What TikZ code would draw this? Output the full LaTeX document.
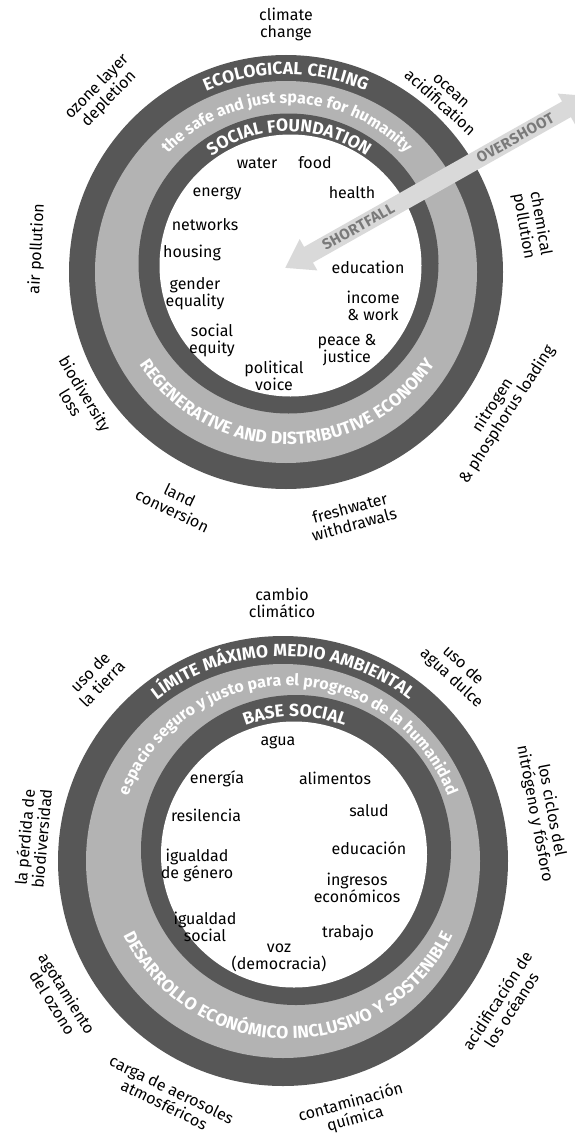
\documentclass[tikz,border=0pt]{standalone}
\usepackage{fontspec}
\setmainfont{Fira Sans}
\newfontfamily\ringfont{Fira Sans}[LetterSpace=3]
\usetikzlibrary{arrows.meta,decorations.text,calc}
\definecolor{ringdark}{HTML}{575757}
\definecolor{ringlight}{HTML}{B3B3B3}
\definecolor{arrowfill}{HTML}{D9D9D9}
\definecolor{arrowtext}{HTML}{7A7A7A}

\begin{document}
\begin{tikzpicture}[
  x=1pt, y=1pt,
  font=\fontsize{16}{17}\selectfont,
  lbl/.style={align=center, inner sep=0pt},
  dark/.style={fill=ringdark},
  light/.style={fill=ringlight},
  hole/.style={fill=white},
  ringtxt/.style={decorate, decoration={text along path, text align=center, text color=white,
    text={|\fontsize{16}{17}\selectfont\bfseries|#1}}},
  ringcaps/.style={decorate, decoration={text along path, text align=center, text color=white,
    text={|\fontsize{17.5}{18}\ringfont\bfseries|#1}}},
  arr/.style={draw=arrowfill, line width=18pt,
    {Triangle[width=34pt,length=27pt,fill=arrowfill]}-{Triangle[width=34pt,length=27pt,fill=arrowfill]}},
  arrlab/.style={font=\fontsize{15}{16}\ringfont\bfseries, text=arrowtext, sloped, inner sep=0pt}
]
\useasboundingbox[fill=white] (0,0) rectangle (575,-1140);

% english doughnut
\coordinate (top) at (286,-272);
\coordinate (topmid) at (287,-268);
\coordinate (topinner) at (288.5,-263.5);
\coordinate (tophole) at (290.5,-265.5);
\coordinate (topsoc) at (289,-265);
\fill[dark] (top) circle[radius=217];
\fill[light] (top) circle[radius=191];
\fill[dark] (topinner) circle[radius=150];
\fill[hole] (tophole) circle[radius=131];

\path[ringcaps={ECOLOGICAL CEILING}] ($(top)+(165:197.5)$) arc[start angle=165, end angle=15, radius=197.5];
\path[ringtxt={the safe and just space for humanity}] ($(topmid)+(170:165)$) arc[start angle=170, end angle=10, radius=165];
\path[ringcaps={SOCIAL FOUNDATION}] ($(topsoc)+(170:133.5)$) arc[start angle=170, end angle=10, radius=133.5];
\path[ringcaps={REGENERATIVE AND DISTRIBUTIVE ECONOMY}] ($(topmid)+(182:176.5)$) arc[start angle=182, end angle=358, radius=176.5];

\node[lbl] (water) at (257,-163) {water};
\node[lbl] (food) at (315,-163) {food};
\node[lbl] (energy) at (217,-194) {energy};
\node[lbl] (health) at (352,-193) {health};
\node[lbl] (networks) at (205,-225) {networks};
\node[lbl] (housing) at (192,-253) {housing};
\node[lbl] (education) at (368,-267) {education};
\node[lbl] (gender) at (195,-294) {gender\\equality};
\node[lbl] (income) at (373,-306) {income\\\& work};
\node[lbl] (equity) at (212,-340) {social\\equity};
\node[lbl] (peace) at (347,-350) {peace \&\\justice};
\node[lbl] (voice) at (274,-376) {political\\voice};

\node[lbl] (climate) at (286,-24) {climate\\change};
\node[lbl, rotate=45.6] (ozone) at (103,-93) {ozone layer\\depletion};
\node[lbl, rotate=-42.3] (ocean) at (445,-97) {ocean\\acidification};
\node[lbl, rotate=-80] (chemical) at (532,-225) {chemical\\pollution};
\node[lbl, rotate=87] (air) at (37,-249) {air pollution};
\node[lbl, rotate=-59] (biodiv) at (78,-398) {biodiversity\\loss};
\node[lbl, rotate=-25.5] (land) at (176,-503) {land\\conversion};
\node[lbl, rotate=15] (freshwater) at (352,-516) {freshwater\\withdrawals};
\node[lbl, rotate=57] (nitrogen) at (500,-410) {nitrogen\\\& phosphorus loading};

\coordinate (shortfall) at (285,-268);
\coordinate (overshoot) at (590,-96);
\draw[arr] (shortfall) -- (overshoot);
\path (shortfall) -- (overshoot)
  node[arrlab, pos=0.24] (shortlbl) {SHORTFALL}
  node[arrlab, pos=0.755] (overlbl) {OVERSHOOT};

% spanish doughnut
\coordinate (bot) at (283,-861);
\coordinate (botmid) at (288,-856.5);
\coordinate (botinner) at (296,-850);
\coordinate (bothole) at (294,-854.5);
\coordinate (botsoc) at (295,-853);
\fill[dark] (bot) circle[radius=225];
\fill[light] (bot) circle[radius=197];
\fill[dark] (botinner) circle[radius=155];
\fill[hole] (bothole) circle[radius=133];

\path[ringcaps={LÍMITE MÁXIMO MEDIO AMBIENTAL}] ($(bot)+(170:204.5)$) arc[start angle=170, end angle=10, radius=204.5];
\path[ringtxt={espacio seguro y justo para el progreso de la humanidad}] ($(botmid)+(178:171)$) arc[start angle=178, end angle=2, radius=171];
\path[ringcaps={BASE SOCIAL}] ($(botsoc)+(150:136.5)$) arc[start angle=150, end angle=30, radius=136.5];
\path[ringcaps={DESARROLLO ECONÓMICO INCLUSIVO Y SOSTENIBLE}] ($(botmid)+(182:182.5)$) arc[start angle=182, end angle=358, radius=182.5];

\node[lbl] (agua) at (278,-743) {agua};
\node[lbl] (energia) at (217,-779) {energía};
\node[lbl] (alimentos) at (335,-778) {alimentos};
\node[lbl] (resilencia) at (206,-815) {resilencia};
\node[lbl] (salud) at (369,-811) {salud};
\node[lbl] (educacion) at (369,-848) {educación};
\node[lbl] (genero) at (197,-865) {igualdad\\de género};
\node[lbl] (ingresos) at (357,-888) {ingresos\\económicos};
\node[lbl] (social) at (205,-927) {igualdad\\social};
\node[lbl] (trabajo) at (348,-933) {trabajo};
\node[lbl] (voz) at (279,-958) {voz\\(democracia)};

\node[lbl] (cambio) at (282,-603) {cambio\\climático};
\node[lbl, rotate=45.6] (tierra) at (96,-678) {uso de\\la tierra};
\node[lbl, rotate=-42.6] (dulce) at (457,-672) {uso de\\agua dulce};
\node[lbl, rotate=85] (perdida) at (33,-838) {la pérdida de\\biodiversidad};
\node[lbl, rotate=-79.3] (ciclos) at (543,-812) {los ciclos del\\nitrógeno y fósforo};
\node[lbl, rotate=-58] (ozono) at (60,-998) {agotamiento\\del ozono};
\node[lbl, rotate=-26] (aerosoles) at (168,-1097) {carga de aerosoles\\atmosféricos};
\node[lbl, rotate=15.6] (quimica) at (353,-1111) {contaminación\\química};
\node[lbl, rotate=57] (oceanos) at (504,-1005) {acidificación de\\los océanos};
\end{tikzpicture}
\end{document}
